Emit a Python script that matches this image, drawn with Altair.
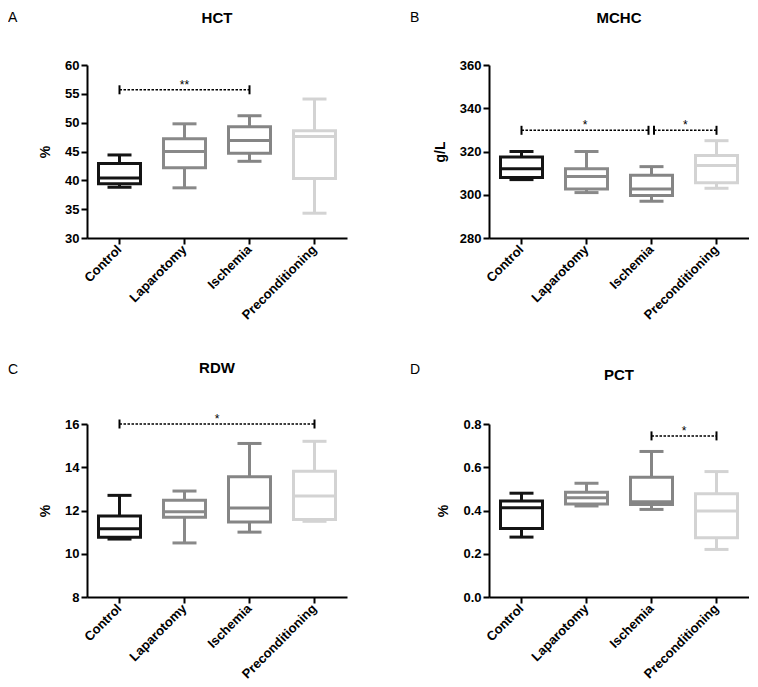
import altair as alt
import pandas as pd

# ---------------- data ----------------
groups = ["Control", "Laparotomy", "Ischemia", "Preconditioning"]
group_colors = ["#141414", "#898989", "#858585", "#d3d3d3"]

# HCT (%)
hct_lower = [38.8, 38.7, 43.3, 34.3]
hct_q1 = [39.4, 42.2, 44.7, 40.3]
hct_median = [40.4, 45.0, 46.9, 47.6]
hct_q3 = [42.9, 47.2, 49.3, 48.6]
hct_upper = [44.4, 49.8, 51.2, 54.1]
hct_ticks = [30, 35, 40, 45, 50, 55, 60]
hct_sig_from = ["Control"]
hct_sig_to = ["Ischemia"]
hct_sig_y = [55.7]
hct_sig_label = ["**"]

# MCHC (g/L)
mchc_lower = [307.0, 301.0, 297.0, 303.0]
mchc_q1 = [308.0, 302.7, 299.6, 305.5]
mchc_median = [312.0, 308.4, 302.7, 313.5]
mchc_q3 = [317.5, 312.0, 309.0, 318.2]
mchc_upper = [320.0, 320.0, 313.0, 325.0]
mchc_ticks = [280, 300, 320, 340, 360]
mchc_sig_from = ["Control", "Ischemia"]
mchc_sig_to = ["Ischemia", "Preconditioning"]
mchc_sig_y = [329.8, 329.8]
mchc_sig_label = ["*", "*"]

# RDW (%)
rdw_lower = [10.68, 10.5, 11.0, 11.5]
rdw_q1 = [10.76, 11.69, 11.47, 11.58]
rdw_median = [11.16, 11.94, 12.12, 12.67]
rdw_q3 = [11.74, 12.47, 13.56, 13.81]
rdw_upper = [12.7, 12.9, 15.1, 15.2]
rdw_ticks = [8, 10, 12, 14, 16]
rdw_sig_from = ["Control"]
rdw_sig_to = ["Preconditioning"]
rdw_sig_y = [16.0]
rdw_sig_label = ["*"]

# PCT (%)
pct_lower = [0.277, 0.421, 0.405, 0.22]
pct_q1 = [0.317, 0.43, 0.428, 0.274]
pct_median = [0.413, 0.459, 0.441, 0.398]
pct_q3 = [0.444, 0.484, 0.554, 0.477]
pct_upper = [0.48, 0.526, 0.673, 0.58]
pct_ticks = [0.0, 0.2, 0.4, 0.6, 0.8]
pct_sig_from = ["Ischemia"]
pct_sig_to = ["Preconditioning"]
pct_sig_y = [0.745]
pct_sig_label = ["*"]

# ---------------- layout ----------------
STEP = 65
W = 4 * STEP
H = 173
FONT = "Liberation Sans"


def panel(letter, title, ytitle, domain, ticks, fmt,
          lower, q1, med, q3, upper,
          sig_from, sig_to, sig_y, sig_label,
          letter_y, title_y, end_shift=None):
    df = pd.DataFrame({"group": groups, "lower": lower, "q1": q1,
                       "median": med, "q3": q3, "upper": upper})
    xscale = alt.Scale(domain=groups, paddingInner=0, paddingOuter=0)
    xaxis = alt.Axis(title=None, labelAngle=-45, labelAlign="right",
                     labelBaseline="middle", labelPadding=3)
    yscale = alt.Scale(domain=domain, nice=False, zero=False)
    yaxis = alt.Axis(title=ytitle, values=ticks, format=fmt)

    def xe(f):
        return alt.X(f, type="nominal", scale=xscale, axis=xaxis)

    def ye(f):
        return alt.Y(f, type="quantitative", scale=yscale, axis=yaxis)

    col = alt.Color("group:N", scale=alt.Scale(domain=groups, range=group_colors), legend=None)
    stk = alt.Stroke("group:N", scale=alt.Scale(domain=groups, range=group_colors), legend=None)
    base = alt.Chart(df)
    layers = [
        base.mark_rule(strokeWidth=3).encode(x=xe("group"), y=ye("lower"), y2="q1:Q", color=col),
        base.mark_rule(strokeWidth=3).encode(x=xe("group"), y=ye("q3"), y2="upper:Q", color=col),
        base.mark_bar(size=42, fill="white", strokeWidth=3).encode(x=xe("group"), y=ye("q1"), y2="q3:Q", stroke=stk),
        base.mark_tick(size=42, thickness=3, opacity=1).encode(x=xe("group"), y=ye("median"), color=col),
        base.mark_tick(size=24, thickness=3, opacity=1).encode(x=xe("group"), y=ye("lower"), color=col),
        base.mark_tick(size=24, thickness=3, opacity=1).encode(x=xe("group"), y=ye("upper"), color=col),
    ]
    for i in range(len(sig_from)):
        s0, s1 = (end_shift[i] if end_shift else (0, 0))
        sdf = pd.DataFrame({"a": [sig_from[i]], "b": [sig_to[i]], "y": [sig_y[i]], "t": [sig_label[i]]})
        sb = alt.Chart(sdf)
        mid = (groups.index(sig_to[i]) - groups.index(sig_from[i])) * STEP / 2
        layers += [
            sb.mark_rule(color="black", strokeWidth=1.5, strokeDash=[2.5, 1.5],
                         xOffset=s0, x2Offset=s1).encode(x=xe("a"), x2="b:N", y=ye("y")),
            sb.mark_rule(color="black", strokeWidth=2, xOffset=s0, yOffset=-4.5, y2Offset=4.5)
              .encode(x=xe("a"), y=ye("y"), y2="y:Q"),
            sb.mark_rule(color="black", strokeWidth=2, xOffset=s1, yOffset=-4.5, y2Offset=4.5)
              .encode(x=xe("b"), y=ye("y"), y2="y:Q"),
            sb.mark_text(fontSize=12, font=FONT, dx=mid + (s0 + s1) / 2, dy=-1,
                         baseline="alphabetic", color="black")
              .encode(x=xe("a"), y=ye("y"), text="t:N"),
        ]
    ldf = pd.DataFrame({"t": [letter]})
    tdf = pd.DataFrame({"t": [title]})
    layers += [
        alt.Chart(ldf).mark_text(fontSize=14, font=FONT, align="left", baseline="alphabetic", color="black")
          .encode(x=alt.value(-79), y=alt.value(letter_y), text="t:N"),
        alt.Chart(tdf).mark_text(fontSize=15, font=FONT, fontWeight="bold", align="center",
                                 baseline="alphabetic", color="black")
          .encode(x=alt.value(W / 2), y=alt.value(title_y), text="t:N"),
    ]
    return alt.layer(*layers).properties(width=W, height=H)


pA = panel("A", "HCT", "%", [30, 60], hct_ticks, "d",
           hct_lower, hct_q1, hct_median, hct_q3, hct_upper,
           hct_sig_from, hct_sig_to, hct_sig_y, hct_sig_label, -43, -42)
pB = panel("B", "MCHC", "g/L", [280, 360], mchc_ticks, "d",
           mchc_lower, mchc_q1, mchc_median, mchc_q3, mchc_upper,
           mchc_sig_from, mchc_sig_to, mchc_sig_y, mchc_sig_label, -43, -42,
           end_shift=[(0, -3), (2.5, 0)])
pC = panel("C", "RDW", "%", [8, 16], rdw_ticks, "d",
           rdw_lower, rdw_q1, rdw_median, rdw_q3, rdw_upper,
           rdw_sig_from, rdw_sig_to, rdw_sig_y, rdw_sig_label, -50, -51)
pD = panel("D", "PCT", "%", [0, 0.8], pct_ticks, ".1f",
           pct_lower, pct_q1, pct_median, pct_q3, pct_upper,
           pct_sig_from, pct_sig_to, pct_sig_y, pct_sig_label, -50, -44)

chart = alt.concat(pA, pB, pC, pD, columns=2, spacing={"row": 39, "column": 63}).properties(
    padding={"left": 0, "top": 3, "right": 0, "bottom": 0}, background="white"
).configure_view(stroke=None).configure_axis(
    grid=False,
    domainColor="black", domainWidth=2,
    tickColor="black", tickWidth=2, tickSize=6,
    labelFont=FONT, labelFontSize=13, labelFontWeight="bold", labelColor="black",
    titleFont=FONT, titleFontSize=14, titleFontWeight="bold", titleColor="black",
    labelPadding=2, titlePadding=12,
)

chart.save("out.html", embed_options={"renderer": "svg", "actions": False})
